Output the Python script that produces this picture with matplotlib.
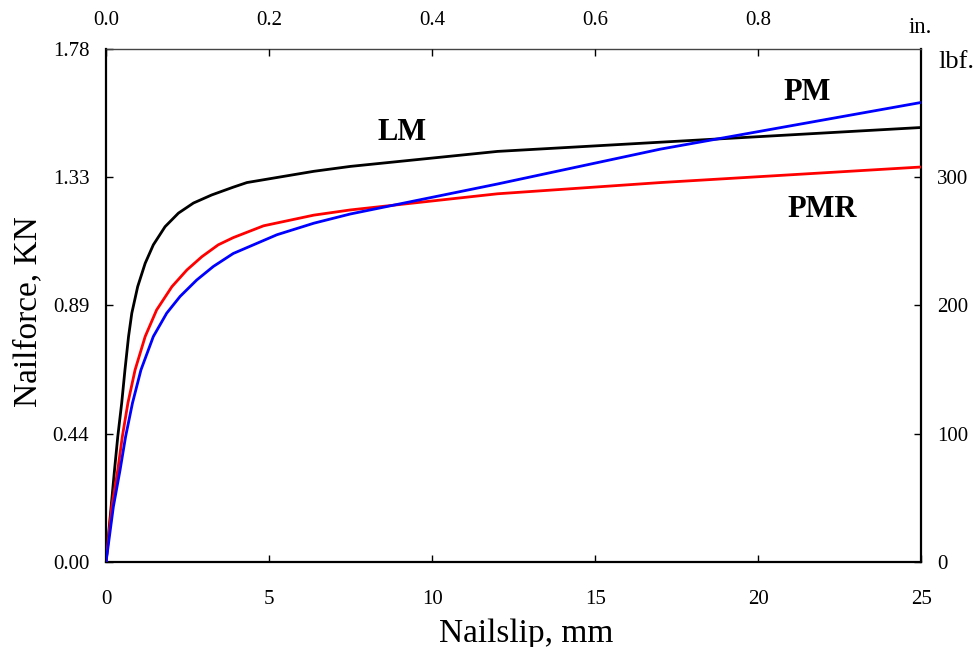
import matplotlib
matplotlib.use("Agg")
import matplotlib.pyplot as plt

plt.rcParams['font.family'] = ['Liberation Serif', 'DejaVu Serif']

# Nail slip (mm) and nail force (KN) for the three models
lm_slip = [0, 0.26, 0.36, 0.48, 0.58, 0.69, 0.79, 0.97, 1.20, 1.45, 1.81, 2.22, 2.68,
           3.24, 3.90, 4.32, 6.37, 7.49, 12.0, 17.0, 25.0]
lm_force = [0, 0.319, 0.435, 0.551, 0.666, 0.782, 0.863, 0.955, 1.036, 1.100, 1.163, 1.210, 1.245,
            1.273, 1.300, 1.316, 1.355, 1.372, 1.424, 1.456, 1.507]

pmr_slip = [0, 0.175, 0.36, 0.50, 0.67, 0.89, 1.20, 1.55, 2.02, 2.48, 2.94, 3.44, 3.90,
            4.83, 6.37, 7.49, 12.0, 17.0, 25.0]
pmr_force = [0, 0.192, 0.319, 0.435, 0.551, 0.666, 0.782, 0.874, 0.955, 1.013, 1.059, 1.100, 1.125,
             1.166, 1.203, 1.221, 1.277, 1.316, 1.370]

pm_slip = [0, 0.225, 0.43, 0.60, 0.81, 1.07, 1.45, 1.86, 2.27, 2.78, 3.29, 3.90,
           5.24, 6.37, 7.49, 12.0, 17.0, 25.0]
pm_force = [0, 0.192, 0.319, 0.435, 0.551, 0.666, 0.782, 0.863, 0.921, 0.978, 1.025, 1.070,
            1.135, 1.175, 1.207, 1.311, 1.432, 1.594]

x_ticks = [0, 5, 10, 15, 20, 25]
lbf_ticks = [0, 100, 200, 300, 400]
inch_ticks = [0.0, 0.2, 0.4, 0.6, 0.8]
LBF_TO_KN = 0.0044482

fig = plt.figure(figsize=(9.8, 6.47), dpi=100)
ax = fig.add_axes([0.1082, 0.1314, 0.8321, 0.7929])

ax.plot(lm_slip, lm_force, color='black', lw=2.0, zorder=3, solid_joinstyle='round')
ax.plot(pmr_slip, pmr_force, color='#ff0000', lw=2.0, zorder=3, solid_joinstyle='round')
ax.plot(pm_slip, pm_force, color='#0000ff', lw=2.0, zorder=3, solid_joinstyle='round')

ymax = lbf_ticks[-1] * LBF_TO_KN
ax.set_xlim(0, 25)
ax.set_ylim(0, ymax)

ax.set_xticks(x_ticks)
ax.set_xticklabels([str(v) for v in x_ticks])
kn_ticks = [v * LBF_TO_KN for v in lbf_ticks]
ax.set_yticks(kn_ticks)
ax.set_yticklabels(['%.2f' % v for v in kn_ticks])
ax.tick_params(axis='x', direction='in', length=5, width=1, pad=20, labelsize=15)
ax.tick_params(axis='y', direction='in', length=5, width=1, pad=12, labelsize=15)

for side in ['left', 'bottom', 'right']:
    ax.spines[side].set_linewidth(1.6)
ax.spines['top'].set_linewidth(1.0)
ax.spines['top'].set_color('#444444')

# Right axis in pounds-force
axr = ax.twinx()
axr.set_ylim(0, lbf_ticks[-1])
axr.set_yticks(lbf_ticks[:-1])
axr.set_yticklabels([str(v) for v in lbf_ticks[:-1]])
axr.tick_params(axis='y', direction='in', length=5, width=1, pad=11, labelsize=15)
for s in axr.spines.values():
    s.set_visible(False)

# Top axis in inches
axt = ax.twiny()
axt.set_xlim(0, 1.0)
axt.set_xticks(inch_ticks)
axt.set_xticklabels(['%.1f' % v for v in inch_ticks])
axt.tick_params(axis='x', direction='in', length=5, width=1, pad=14, labelsize=15)
for s in axt.spines.values():
    s.set_visible(False)

fig.text(920 / 980, 1 - 33 / 647, 'in.', ha='center', va='baseline', fontsize=16.5)
fig.text(938 / 980, 1 - 68 / 647, 'lbf.', ha='left', va='baseline', fontsize=19)

ax.text(9.07, 1.464, 'LM', ha='center', va='baseline', fontsize=22, fontweight='bold')
ax.text(21.49, 1.601, 'PM', ha='center', va='baseline', fontsize=22, fontweight='bold')
ax.text(21.95, 1.196, 'PMR', ha='center', va='baseline', fontsize=22, fontweight='bold')

fig.text(526 / 980, 1 - 641.7 / 647, 'Nailslip, mm', ha='center', va='baseline', fontsize=24)
fig.text(28 / 980, 1 - 311.7 / 647, 'Nailforce, KN', ha='center', va='center', rotation=90, fontsize=24)

fig.savefig('out.png', dpi=100)
